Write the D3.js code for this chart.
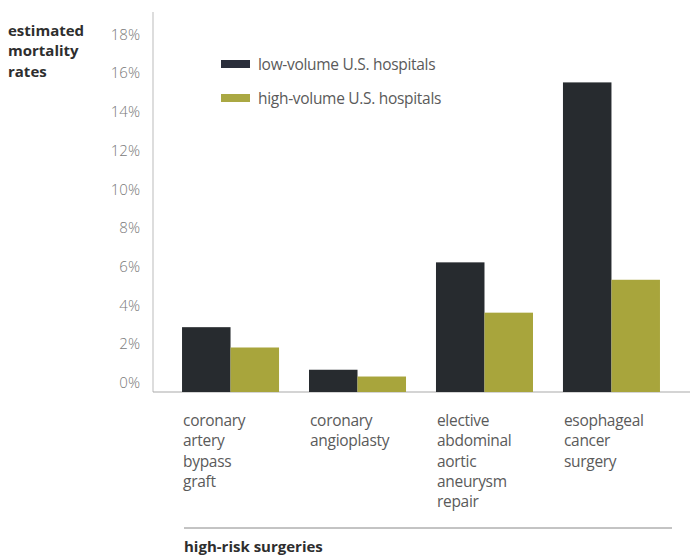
<!DOCTYPE html>
<html>
<head>
<meta charset="utf-8">
<script src="https://cdn.jsdelivr.net/npm/d3@7"></script>
<style>
  body { margin: 0; background: #fff; }
  svg { display: block; font-family: "Open Sans", sans-serif; }
</style>
</head>
<body>
<svg width="690" height="557"></svg>
<script>
const categories = ["coronary artery bypass graft", "coronary angioplasty",
  "elective abdominal aortic aneurysm repair", "esophageal cancer surgery"];
const categoryLines = [
  ["coronary", "artery", "bypass", "graft"],
  ["coronary", "angioplasty"],
  ["elective", "abdominal", "aortic", "aneurysm", "repair"],
  ["esophageal", "cancer", "surgery"]
];
const seriesNames = ["low-volume U.S. hospitals", "high-volume U.S. hospitals"];
const lowVolume = [3.35, 1.15, 6.7, 16.0];
const highVolume = [2.3, 0.8, 4.1, 5.8];
const yTicks = [0, 2, 4, 6, 8, 10, 12, 14, 16, 18];
const yTitle = ["estimated", "mortality", "rates"];

const colors = ["#272b2f", "#a8a53c"];
const legendColors = ["#2a2e3b", "#aaa843"];
const svg = d3.select("svg");

const x = d3.scaleBand()
  .domain(categories)
  .range([156, 686])
  .paddingInner(0.236)
  .paddingOuter(0.205);

const xInner = d3.scaleBand()
  .domain(seriesNames)
  .range([0, x.bandwidth()]);

const y = d3.scaleLinear().domain([0, 18]).range([392, 43.7]);

// axis lines
svg.append("line")
  .attr("x1", 153).attr("x2", 153)
  .attr("y1", 12).attr("y2", y(0))
  .attr("stroke", "#bbb").attr("stroke-width", 1);
svg.append("line")
  .attr("x1", 153).attr("x2", 690)
  .attr("y1", y(0)).attr("y2", y(0))
  .attr("stroke", "#aaa").attr("stroke-width", 1.2);

// y tick labels
const yAxis = svg.append("g")
  .attr("transform", "translate(140,0)")
  .call(d3.axisLeft(y).tickValues(yTicks).tickSize(0).tickFormat(d => d + "%"));
yAxis.select(".domain").remove();
yAxis.selectAll("text")
  .attr("x", 0)
  .attr("dy", "-0.3em")
  .attr("fill", "#7a7a7a")
  .style("font-size", "15px")
  .style("font-family", "Open Sans, sans-serif")
  .style("font-weight", 300);

// y title, one text per line
svg.selectAll(".ytitle")
  .data(yTitle)
  .enter().append("text")
  .attr("class", "ytitle")
  .attr("x", 8)
  .attr("y", (d, i) => 36 + i * 20.3)
  .attr("fill", "#2e2e2e")
  .style("font-size", "15px")
  .style("font-weight", 700)
  .text(d => d);

// bars
const rows = categories.map((c, i) => ({ cat: c, values: [lowVolume[i], highVolume[i]] }));
const group = svg.selectAll(".grp")
  .data(rows)
  .enter().append("g")
  .attr("class", "grp")
  .attr("transform", d => "translate(" + x(d.cat) + ",0)");

group.selectAll("rect")
  .data(d => d.values.map((v, i) => ({ name: seriesNames[i], value: v, idx: i })))
  .enter().append("rect")
  .attr("x", d => xInner(d.name))
  .attr("y", d => y(d.value))
  .attr("width", xInner.bandwidth())
  .attr("height", d => y(0) - y(d.value))
  .attr("fill", d => colors[d.idx]);

// category labels
svg.selectAll(".cat")
  .data(categories)
  .enter().append("text")
  .attr("class", "cat")
  .attr("fill", "#5a5a5a")
  .style("font-size", "15.5px")
  .style("font-weight", 400)
  .style("letter-spacing", "-0.3px")
  .selectAll("tspan")
  .data((d, i) => categoryLines[i].map(t => ({ t: t, cat: d })))
  .enter().append("tspan")
  .attr("x", d => x(d.cat) + 1)
  .attr("y", (d, i) => 426 + i * 20.3)
  .text(d => d.t);

// legend
const legend = svg.append("g")
  .selectAll("g")
  .data(seriesNames)
  .enter().append("g")
  .attr("transform", (d, i) => "translate(221," + (64 + i * 34) + ")");
legend.append("rect")
  .attr("x", 0).attr("y", -4)
  .attr("width", 29).attr("height", 8)
  .attr("fill", (d, i) => legendColors[i]);
legend.append("text")
  .attr("x", 37).attr("y", 6)
  .attr("fill", "#5a5a5a")
  .style("font-size", "15.5px")
  .style("font-weight", 400)
  .style("letter-spacing", "-0.3px")
  .text(d => d);

// bottom rule and title
svg.append("line")
  .attr("x1", 184).attr("x2", 672)
  .attr("y1", 528).attr("y2", 528)
  .attr("stroke", "#888").attr("stroke-width", 1);
svg.append("text")
  .attr("x", 184).attr("y", 552)
  .attr("fill", "#2e2e2e")
  .style("font-size", "15px")
  .style("font-weight", 700)
  .text("high-risk surgeries");
</script>
</body>
</html>
